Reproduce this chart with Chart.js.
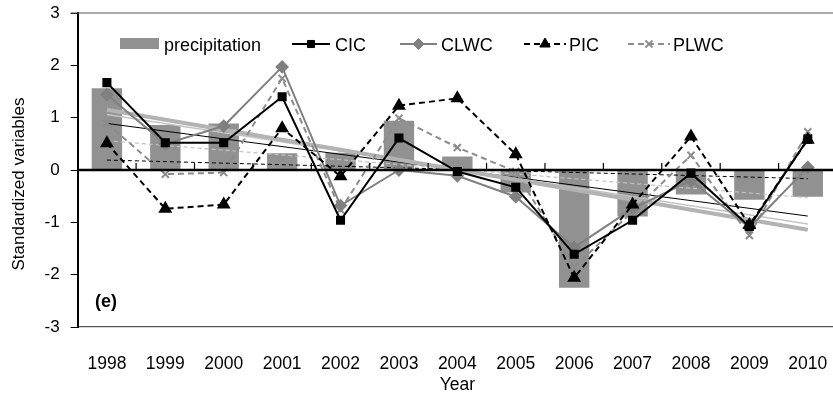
<!DOCTYPE html>
<html>
<head>
<meta charset="utf-8">
<script src="https://cdn.jsdelivr.net/npm/chart.js@4/dist/chart.umd.min.js"></script>
<style>
  html, body { margin: 0; padding: 0; background: #fff; overflow: hidden; }
  #wrap { position: relative; width: 845px; height: 396px; }
</style>
</head>
<body>
<div id="wrap"><canvas id="chart"></canvas></div>
<script>
const years = ["1998", "1999", "2000", "2001", "2002", "2003", "2004", "2005", "2006", "2007", "2008", "2009", "2010"];
const precipitation = [1.56, 0.86, 0.89, 0.32, 0.33, 0.94, 0.26, -0.43, -2.25, -0.89, -0.47, -0.57, -0.51];
const cic = [1.67, 0.52, 0.52, 1.40, -0.96, 0.61, -0.03, -0.33, -1.61, -0.96, -0.06, -1.08, 0.59];
const clwc = [1.44, 0.50, 0.84, 1.97, -0.68, 0.0, -0.11, -0.51, -1.48, -0.74, -0.20, -1.10, 0.05];
const pic = [0.51, -0.74, -0.66, 0.80, -0.12, 1.23, 1.37, 0.30, -2.06, -0.66, 0.64, -1.05, 0.58];
const plwc = [0.89, -0.08, -0.05, 1.75, -0.76, 0.99, 0.43, -0.03, -1.86, -0.79, 0.28, -1.25, 0.73];
// trend line end points (1998, 2010)
const trendPrecip = [1.15, -1.14];
const trendCic = [0.89, -0.88];
const trendClwc = [1.06, -1.03];
const trendPic = [0.19, -0.165];
const trendPlwc = [0.56, -0.53];

const FONT = "'Liberation Sans', Arial, sans-serif";

function trend(ends) {
  return years.map((y, i) => i === 0 ? ends[0] : (i === years.length - 1 ? ends[1] : null));
}

function trendSet(ends, color, width, dash) {
  return {
    type: "line", data: trend(ends), borderColor: color, borderWidth: width,
    borderDash: dash || [], pointRadius: 0, spanGaps: true, fill: false, order: 5, tension: 0
  };
}

function drawMarker(ctx, d, x, y) {
  ctx.save();
  ctx.fillStyle = d.pointBackgroundColor;
  ctx.strokeStyle = d.pointBorderColor;
  ctx.lineWidth = d.pointBorderWidth || 1;
  ctx.setLineDash([]);
  Chart.helpers.drawPoint(ctx, { pointStyle: d.pointStyle, radius: d.pointRadius, borderWidth: d.pointBorderWidth || 1, rotation: 0 }, x, y);
  ctx.restore();
}

// zero line with small ticks, top frame, legend, axis title and panel label
const decor = {
  id: "decor",
  afterDatasetsDraw(chart) {
    const ctx = chart.ctx;
    const area = chart.chartArea;
    const x = chart.scales.x;
    const y0 = chart.scales.y.getPixelForValue(0);
    ctx.save();
    ctx.strokeStyle = "#000";
    ctx.lineWidth = 1.2;
    for (let i = 0; i < years.length; i++) {
      const bx = (x.getPixelForValue(i) + x.getPixelForValue(i + 1)) / 2;
      ctx.beginPath();
      ctx.moveTo(bx, y0);
      ctx.lineTo(bx, y0 - 7);
      ctx.stroke();
    }
    ctx.lineWidth = 2.5;
    ctx.beginPath();
    ctx.moveTo(area.left, y0);
    ctx.lineTo(area.right, y0);
    ctx.stroke();

    ctx.strokeStyle = "#555";
    ctx.lineWidth = 1.2;
    ctx.beginPath();
    ctx.moveTo(area.left - 7, area.top);
    ctx.lineTo(area.right, area.top);
    ctx.stroke();

    // legend
    const ds = chart.data.datasets;
    ctx.fillStyle = ds[0].backgroundColor;
    ctx.fillRect(120, 38, 39, 11);
    ctx.font = "18px " + FONT;
    ctx.textBaseline = "middle";
    ctx.fillStyle = "#000";
    ctx.fillText("precipitation", 164, 46);
    const items = [
      { d: ds[1], x1: 292, x2: 330, tx: 335 },
      { d: ds[2], x1: 400, x2: 437, tx: 441 },
      { d: ds[3], x1: 524, x2: 566, tx: 569 },
      { d: ds[4], x1: 628, x2: 670, tx: 673 }
    ];
    items.forEach(it => {
      const ly = 44;
      ctx.save();
      ctx.strokeStyle = it.d.borderColor;
      ctx.lineWidth = it.d.borderWidth;
      ctx.setLineDash(it.d.borderDash || []);
      ctx.beginPath();
      ctx.moveTo(it.x1, ly);
      ctx.lineTo(it.x2, ly);
      ctx.stroke();
      ctx.restore();
      drawMarker(ctx, it.d, (it.x1 + it.x2) / 2, ly);
      ctx.fillStyle = "#000";
      ctx.fillText(it.d.label, it.tx, 46);
    });
    ctx.restore();
  },
  afterDraw(chart) {
    const ctx = chart.ctx;
    ctx.save();
    ctx.fillStyle = "#000";
    ctx.textBaseline = "middle";
    ctx.font = "bold 18px " + FONT;
    ctx.fillText("(e)", 95, 302);
    ctx.translate(19, 184);
    ctx.rotate(-Math.PI / 2);
    ctx.textAlign = "center";
    ctx.font = "17px " + FONT;
    ctx.fillText("Standardized variables", 0, 0);
    ctx.restore();
  }
};

new Chart(document.getElementById("chart"), {
  type: "bar",
  data: {
    labels: years,
    datasets: [
      {
        label: "precipitation", data: precipitation, backgroundColor: "#919191",
        barPercentage: 0.52, categoryPercentage: 1, order: 10
      },
      {
        type: "line", label: "CIC", data: cic, borderColor: "#000", borderWidth: 2,
        pointStyle: "rect", pointRadius: 5, pointBackgroundColor: "#000", pointBorderColor: "#000",
        tension: 0, order: 1
      },
      {
        type: "line", label: "CLWC", data: clwc, borderColor: "#808080", borderWidth: 2,
        pointStyle: "rectRot", pointRadius: 5.5, pointBackgroundColor: "#808080", pointBorderColor: "#808080",
        tension: 0, order: 2
      },
      {
        type: "line", label: "PIC", data: pic, borderColor: "#000", borderWidth: 2, borderDash: [6, 4],
        pointStyle: "triangle", pointRadius: 6, pointBackgroundColor: "#000", pointBorderColor: "#000",
        tension: 0, order: 1
      },
      {
        type: "line", label: "PLWC", data: plwc, borderColor: "#8c8c8c", borderWidth: 2, borderDash: [6, 4],
        pointStyle: "crossRot", pointRadius: 5, pointBorderWidth: 2, pointBackgroundColor: "#8c8c8c", pointBorderColor: "#8c8c8c",
        tension: 0, order: 2
      },
      trendSet(trendPrecip, "#b3b3b3", 4),
      trendSet(trendClwc, "#c4c4c4", 1.5),
      trendSet(trendCic, "#000", 1),
      trendSet(trendPic, "#000", 1, [4, 3]),
      trendSet(trendPlwc, "#c0c0c0", 1.2, [4, 3])
    ]
  },
  options: {
    responsive: true,
    maintainAspectRatio: false,
    animation: false,
    layout: { padding: { top: 13, right: 0, left: 0, bottom: 0 } },
    plugins: { legend: { display: false }, tooltip: { enabled: false } },
    scales: {
      x: {
        grid: { display: false, drawTicks: false },
        border: { display: true, color: "#555", width: 1.2 },
        ticks: { color: "#000", font: { size: 17.5, family: FONT }, padding: 27, maxRotation: 0 },
        title: { display: true, text: "Year", color: "#000", padding: 0, font: { size: 17.5, family: FONT } },
        afterFit(scale) { scale.height = 69; scale.paddingLeft = 0; scale.paddingRight = 0; }
      },
      y: {
        min: -3, max: 3,
        ticks: { stepSize: 1, color: "#000", font: { size: 17, family: FONT }, padding: 11 },
        grid: { drawOnChartArea: false, drawTicks: true, tickLength: 7, color: "#000" },
        border: { display: true, color: "#000", width: 2 },
        afterFit(scale) { scale.width = 77.7; scale.paddingTop = 0; scale.paddingBottom = 0; }
      }
    }
  },
  plugins: [decor]
});
</script>
</body>
</html>
